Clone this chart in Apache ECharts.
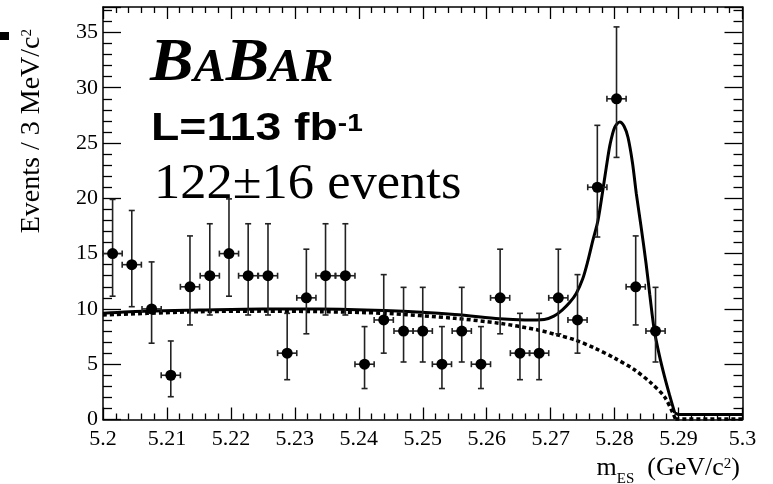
<!DOCTYPE html>
<html>
<head>
<meta charset="utf-8">
<script src="https://cdn.jsdelivr.net/npm/echarts@6.0.0/dist/echarts.min.js"></script>
<style>
  html, body { margin: 0; padding: 0; background: #fff; }
  #chart { width: 773px; height: 484px; }
</style>
</head>
<body>
<div id="chart"></div>
<script>
// ---- data ----
const binCenters = [5.2015, 5.2045, 5.2076, 5.2106, 5.2136, 5.2167, 5.2197, 5.2227, 5.2258, 5.2288,
                    5.2318, 5.2348, 5.2379, 5.2409, 5.2439, 5.2470, 5.2500, 5.2530, 5.2561, 5.2591,
                    5.2621, 5.2652, 5.2682, 5.2712, 5.2742, 5.2773, 5.2803, 5.2833, 5.2864];
const counts     = [15, 14, 10, 4, 12, 13, 15, 13, 13, 6,
                    11, 13, 13, 5, 9, 8, 8, 5, 8, 5,
                    11, 6, 6, 11, 9, 21, 29, 12, 8];
const errLow     = [11.15, 10.2, 6.9, 2.06, 8.55, 9.45, 11.15, 9.45, 9.45, 3.6,
                    7.75, 9.45, 9.45, 2.8, 6.0, 5.2, 5.2, 2.8, 5.2, 2.8,
                    7.75, 3.6, 3.6, 7.75, 6.0, 16.5, 23.7, 8.55, 5.2];
const errHigh    = [19.9, 18.9, 14.25, 7.1, 16.6, 17.7, 19.95, 17.7, 17.7, 9.6,
                    15.4, 17.7, 17.7, 8.4, 13.1, 11.95, 11.95, 8.4, 11.95, 8.4,
                    15.4, 9.6, 9.6, 15.4, 13.1, 26.6, 35.5, 16.6, 11.95];
const binHalfWidth = 0.0015;

// total fit (solid) sampled along the curve
const fitX = [5.2000, 5.2070, 5.2150, 5.2250, 5.2340, 5.2440, 5.2550, 5.2620, 5.2660, 5.2690,
              5.2705, 5.2718, 5.2730, 5.2740, 5.2750, 5.2758, 5.2766, 5.2774, 5.2781, 5.2787,
              5.2793, 5.2800, 5.2808, 5.2815, 5.2821, 5.2828, 5.2834, 5.2841, 5.2849, 5.2855,
              5.2862, 5.2870, 5.2878, 5.2886, 5.2894];
const fitY = [9.6, 9.8, 9.9, 10.0, 10.0, 9.85, 9.5, 9.1, 9.0, 9.05,
              9.35, 9.9, 10.6, 11.4, 12.7, 14.3, 16.2, 18.0, 20.5, 22.8,
              24.9, 26.4, 26.9, 26.5, 25.5, 23.2, 20.4, 17.6, 14.2, 11.3,
              8.1, 5.8, 3.9, 2.2, 0.6];
const fitTailX = [5.2894, 5.2900, 5.3000];
const fitTailY = [0.6, 0.45, 0.45];

// background (dashed) sampled along the curve
const bkgX = [5.2000, 5.2070, 5.2150, 5.2250, 5.2340, 5.2440, 5.2550, 5.2620, 5.2680, 5.2710,
              5.2738, 5.2769, 5.2800, 5.2831, 5.2857, 5.2878, 5.2891, 5.2895];
const bkgY = [9.45, 9.6, 9.75, 9.8, 9.75, 9.6, 9.15, 8.7, 8.1, 7.65,
              7.2, 6.45, 5.55, 4.5, 3.3, 2.05, 0.6, 0.05];
const bkgTailX = [5.2895, 5.3000];
const bkgTailY = [0.05, 0.05];

const xMin = 5.2, xMax = 5.3, xStep = 0.01;
const yMin = 0, yMax = 37.3, yStep = 5;

// ---- build ----
const pts = binCenters.map((x, i) => [x, counts[i]]);
const errs = binCenters.map((x, i) => [x, counts[i], errLow[i], errHigh[i]]);
const zip = (a, b) => a.map((v, i) => [v, b[i]]);

const serif = 'Liberation Serif';
const sans = 'Liberation Sans';

const chart = echarts.init(document.getElementById('chart'), null, { renderer: 'canvas' });

const xAxisCommon = {
  type: 'value', min: xMin, max: xMax, interval: xStep,
  axisLine: { show: true, onZero: false, lineStyle: { color: '#000', width: 1.5 } },
  axisTick: { show: true, inside: true, length: 12, lineStyle: { color: '#000', width: 1.3 } },
  minorTick: { show: true, splitNumber: 5, length: 6, lineStyle: { color: '#000', width: 1.3 } },
  splitLine: { show: false }
};
const yAxisCommon = {
  type: 'value', min: yMin, max: yMax, interval: yStep,
  axisLine: { show: true, onZero: false, lineStyle: { color: '#000', width: 1.5 } },
  axisTick: { show: true, inside: true, length: 18, lineStyle: { color: '#000', width: 1.3 } },
  minorTick: { show: true, splitNumber: 5, length: 9, lineStyle: { color: '#000', width: 1.3 } },
  splitLine: { show: false }
};

const option = {
  animation: false,
  backgroundColor: '#fff',
  grid: { left: 103, right: 30.5, top: 7, bottom: 64.5, containLabel: false },
  xAxis: [
    Object.assign({}, xAxisCommon, {
      position: 'bottom',
      axisLabel: {
        show: true, color: '#000', fontFamily: serif, fontSize: 22, margin: 9,
        showMinLabel: true, showMaxLabel: true,
        formatter: v => String(Math.round(v * 100) / 100)
      }
    }),
    Object.assign({}, xAxisCommon, { position: 'top', axisLabel: { show: false } })
  ],
  yAxis: [
    Object.assign({}, yAxisCommon, {
      position: 'left',
      axisLabel: {
        show: true, color: '#000', fontFamily: serif, fontSize: 22, margin: 5,
        formatter: v => (Math.abs(v % yStep) < 1e-6 ? String(v) : '')
      }
    }),
    Object.assign({}, yAxisCommon, { position: 'right', axisLabel: { show: false } })
  ],
  series: [
    {
      type: 'line', name: 'bkg', data: zip(bkgX, bkgY), smooth: 0.3,
      showSymbol: false, symbol: 'none',
      lineStyle: { color: '#000', width: 3.5, type: [4, 3], cap: 'butt' }, z: 3
    },
    {
      type: 'line', name: 'bkgTail', data: zip(bkgTailX, bkgTailY), smooth: false,
      showSymbol: false, symbol: 'none',
      lineStyle: { color: '#000', width: 3.5, type: [4, 3], cap: 'butt' }, z: 3
    },
    {
      type: 'line', name: 'fit', data: zip(fitX, fitY), smooth: 0.3,
      showSymbol: false, symbol: 'none',
      lineStyle: { color: '#000', width: 3 }, z: 4
    },
    {
      type: 'line', name: 'fitTail', data: zip(fitTailX, fitTailY), smooth: false,
      showSymbol: false, symbol: 'none',
      lineStyle: { color: '#000', width: 3 }, z: 4
    },
    {
      type: 'custom', name: 'errors', data: errs, z: 5,
      renderItem: function (params, api) {
        const x = api.value(0), y = api.value(1), lo = api.value(2), hi = api.value(3);
        const top = api.coord([x, hi]);
        const bot = api.coord([x, lo]);
        const l = api.coord([x - binHalfWidth, y]);
        const r = api.coord([x + binHalfWidth, y]);
        const st = { stroke: '#222', lineWidth: 1.6, fill: null };
        const cap = 3;
        return {
          type: 'group',
          children: [
            { type: 'line', shape: { x1: top[0], y1: top[1], x2: bot[0], y2: bot[1] }, style: st },
            { type: 'line', shape: { x1: top[0] - cap, y1: top[1], x2: top[0] + cap, y2: top[1] }, style: st },
            { type: 'line', shape: { x1: bot[0] - cap, y1: bot[1], x2: bot[0] + cap, y2: bot[1] }, style: st },
            { type: 'line', shape: { x1: l[0], y1: l[1], x2: r[0], y2: r[1] }, style: st },
            { type: 'line', shape: { x1: l[0], y1: l[1] - cap, x2: l[0], y2: l[1] + cap }, style: st },
            { type: 'line', shape: { x1: r[0], y1: r[1] - cap, x2: r[0], y2: r[1] + cap }, style: st }
          ]
        };
      }
    },
    {
      type: 'scatter', name: 'data', data: pts, symbol: 'circle', symbolSize: 11,
      itemStyle: { color: '#000', opacity: 1 }, z: 6
    }
  ],
  graphic: [
    { type: 'rect', left: 0, top: 32, shape: { width: 9, height: 8 }, style: { fill: '#000' } },
    {
      type: 'text', x: 150, y: 95, scaleX: 1.05, z: 10,
      style: {
        text: '{b|B}{a|A}{b|B}{a|A}{a|R}', align: 'left', verticalAlign: 'bottom',
        rich: {
          b: { fontFamily: serif, fontStyle: 'italic', fontWeight: 'bold', fontSize: 62, verticalAlign: 'bottom', fill: '#000' },
          a: { fontFamily: serif, fontStyle: 'italic', fontWeight: 'bold', fontSize: 46, verticalAlign: 'bottom', padding: [0, 0, 3, 0], fill: '#000' }
        }
      }
    },
    {
      type: 'text', x: 151, y: 148.3, scaleX: 1.22, z: 10,
      style: {
        text: '{m|L=113 fb}{s|-1}', align: 'left', verticalAlign: 'bottom',
        rich: {
          m: { fontFamily: sans, fontWeight: 'bold', fontSize: 38, verticalAlign: 'bottom', fill: '#000' },
          s: { fontFamily: sans, fontWeight: 'bold', fontSize: 23, verticalAlign: 'bottom', padding: [0, 0, 12, 0], fill: '#000' }
        }
      }
    },
    {
      type: 'text', x: 154, y: 209.8, scaleX: 1.05, z: 10,
      style: {
        text: '122\u00b116 events', align: 'left', verticalAlign: 'bottom',
        font: '50px "Liberation Serif"', fill: '#000'
      }
    },
    {
      type: 'text', x: 45.5, y: 29, rotation: Math.PI / 2, z: 10,
      style: {
        text: '{m|Events / 3 MeV/c}{s|2}', align: 'right', verticalAlign: 'bottom',
        rich: {
          m: { fontFamily: serif, fontSize: 28, verticalAlign: 'bottom', fill: '#000' },
          s: { fontFamily: serif, fontSize: 15, verticalAlign: 'bottom', padding: [0, 0, 11, 0], fill: '#000' }
        }
      }
    },
    {
      type: 'text', x: 740, y: 486.2, z: 10,
      style: {
        text: '{m|m}{d|ES}{m|  (GeV/c}{s|2}{m|)}', align: 'right', verticalAlign: 'bottom',
        rich: {
          m: { fontFamily: serif, fontSize: 26, verticalAlign: 'bottom', padding: [0, 0, 5, 0], fill: '#000' },
          d: { fontFamily: serif, fontSize: 15, verticalAlign: 'bottom', fill: '#000' },
          s: { fontFamily: serif, fontSize: 15, verticalAlign: 'bottom', padding: [0, 0, 15, 0], fill: '#000' }
        }
      }
    }
  ]
};

chart.setOption(option);
</script>
</body>
</html>
